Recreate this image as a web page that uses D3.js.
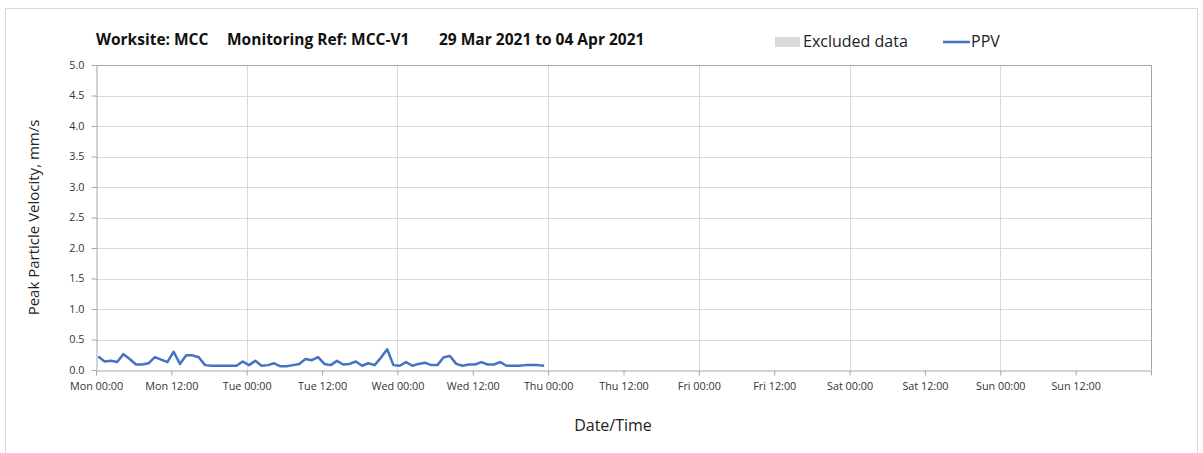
<!DOCTYPE html>
<html>
<head>
<meta charset="utf-8">
<script src="https://cdn.jsdelivr.net/npm/d3@7"></script>
<style>
  body { margin: 0; background: #fff; }
  svg { display: block; font-family: "Open Sans", sans-serif; }
</style>
</head>
<body>
<svg id="chart"></svg>
<script>
const width = 1203
const height = 453

// hourly PPV readings, first one at Mon 29 Mar 2021 00:22
const startTime = Date.UTC(2021, 2, 29, 0, 22)
const ppv = [
  0.22, 0.14, 0.15, 0.13, 0.26, 0.18, 0.09, 0.09, 0.11, 0.21, 0.17, 0.13,
  0.30, 0.10, 0.24, 0.24, 0.21, 0.08, 0.07, 0.07, 0.07, 0.07, 0.07, 0.14,
  0.08, 0.15, 0.07, 0.08, 0.11, 0.06, 0.06, 0.08, 0.10, 0.18, 0.16, 0.21,
  0.10, 0.08, 0.15, 0.09, 0.10, 0.14, 0.07, 0.11, 0.08, 0.20, 0.34, 0.08,
  0.07, 0.13, 0.07, 0.10, 0.12, 0.08, 0.08, 0.21, 0.23, 0.10, 0.07, 0.09,
  0.09, 0.13, 0.09, 0.09, 0.13, 0.07, 0.07, 0.07, 0.08, 0.08, 0.08, 0.07
]
const yTicks = [0, 0.5, 1, 1.5, 2, 2.5, 3, 3.5, 4, 4.5, 5]
const titleParts = ["Worksite: MCC", "Monitoring Ref: MCC-V1", "29 Mar 2021 to 04 Apr 2021"]
const legendItems = ["Excluded data", "PPV"]

const data = ppv.map((v, i) => ({ t: new Date(startTime + i * 3600e3), v: v }))

const margin = { top: 65, right: 52, bottom: 83, left: 96 }
const x = d3.scaleUtc()
  .domain([new Date(Date.UTC(2021, 2, 29)), new Date(Date.UTC(2021, 3, 5))])
  .range([margin.left, width - margin.right])
const y = d3.scaleLinear()
  .domain([0, 5])
  .range([height - margin.bottom, margin.top])

const svg = d3.select("#chart")
  .attr("width", width)
  .attr("height", height)

// outer chart frame
svg.append("rect")
  .attr("x", 5.5).attr("y", 8.5)
  .attr("width", 1192).attr("height", 470)
  .attr("fill", "none")
  .attr("stroke", "#d9d9d9")

// grid
svg.append("g")
  .selectAll("line")
  .data(yTicks.slice(1))
  .join("line")
  .attr("x1", margin.left).attr("x2", width - margin.right)
  .attr("y1", d => Math.round(y(d)) + 0.5).attr("y2", d => Math.round(y(d)) + 0.5)
  .attr("stroke", "#d9d9d9")

svg.append("g")
  .selectAll("line")
  .data(d3.utcDay.range(x.domain()[0], x.domain()[1]).slice(1).concat([x.domain()[1]]))
  .join("line")
  .attr("x1", d => Math.round(x(d)) + 0.5).attr("x2", d => Math.round(x(d)) + 0.5)
  .attr("y1", margin.top).attr("y2", height - margin.bottom)
  .attr("stroke", d => +d === +x.domain()[1] ? "#a6a6a6" : "#d9d9d9")

// axes
const xAxis = svg.append("g")
  .attr("transform", `translate(0,${Math.round(y(0)) + 0.5})`)
  .call(d3.axisBottom(x)
    .ticks(d3.utcHour.every(12))
    .tickFormat(d3.utcFormat("%a %H:%M"))
    .tickSize(5)
    .tickSizeOuter(0))
xAxis.select(".domain").attr("stroke", "#a6a6a6")
xAxis.selectAll(".tick line").attr("stroke", "#a6a6a6")
xAxis.selectAll(".tick").filter(d => +d === +x.domain()[1]).select("text").remove()
xAxis.selectAll(".tick text")
  .attr("y", 12)
  .attr("fill", "#333")
  .style("font-size", "10.8px")
  .style("font-family", "'Open Sans', sans-serif")

const yAxis = svg.append("g")
  .attr("transform", `translate(${margin.left + 0.5},0)`)
  .call(d3.axisLeft(y)
    .tickValues(yTicks)
    .tickFormat(d3.format(".1f"))
    .tickSize(5)
    .tickSizeOuter(0))
yAxis.select(".domain").attr("stroke", "#a6a6a6")
yAxis.selectAll(".tick line").attr("stroke", "#a6a6a6")
yAxis.selectAll(".tick text")
  .attr("x", -12)
  .attr("fill", "#333")
  .style("font-size", "10.8px")
  .style("font-family", "'Open Sans', sans-serif")

// top border
svg.append("line")
  .attr("x1", margin.left).attr("x2", width - margin.right)
  .attr("y1", margin.top + 0.5).attr("y2", margin.top + 0.5)
  .attr("stroke", "#a6a6a6")

// PPV line
svg.append("path")
  .datum(data)
  .attr("fill", "none")
  .attr("stroke", "#4472c4")
  .attr("stroke-width", 2.5)
  .attr("stroke-linejoin", "round")
  .attr("d", d3.line().x(d => x(d.t)).y(d => y(d.v)))

// axis titles
svg.append("text")
  .attr("transform", `translate(39,${(margin.top + height - margin.bottom) / 2}) rotate(-90)`)
  .attr("text-anchor", "middle")
  .style("font-size", "15px")
  .attr("fill", "#222")
  .text("Peak Particle Velocity, mm/s")

svg.append("text")
  .attr("x", 613).attr("y", 431)
  .attr("text-anchor", "middle")
  .style("font-size", "16px")
  .attr("fill", "#222")
  .text("Date/Time")

// title
const titleX = [96, 227, 439]
svg.append("g")
  .selectAll("text")
  .data(titleParts)
  .join("text")
  .attr("x", (d, i) => titleX[i])
  .attr("y", 45)
  .style("font-size", "15.5px")
  .style("font-weight", "bold")
  .attr("fill", "#111")
  .text(d => d)

// legend
const legend = svg.append("g")
legend.append("rect")
  .attr("x", 775).attr("y", 37)
  .attr("width", 25).attr("height", 10)
  .attr("fill", "#d9d9d9")
legend.append("text")
  .attr("x", 803).attr("y", 47)
  .style("font-size", "16px")
  .attr("fill", "#222")
  .text(legendItems[0])
legend.append("line")
  .attr("x1", 943).attr("x2", 970)
  .attr("y1", 42).attr("y2", 42)
  .attr("stroke", "#4472c4")
  .attr("stroke-width", 2.5)
legend.append("text")
  .attr("x", 971).attr("y", 47)
  .style("font-size", "16px")
  .attr("fill", "#222")
  .text(legendItems[1])
</script>
</body>
</html>
